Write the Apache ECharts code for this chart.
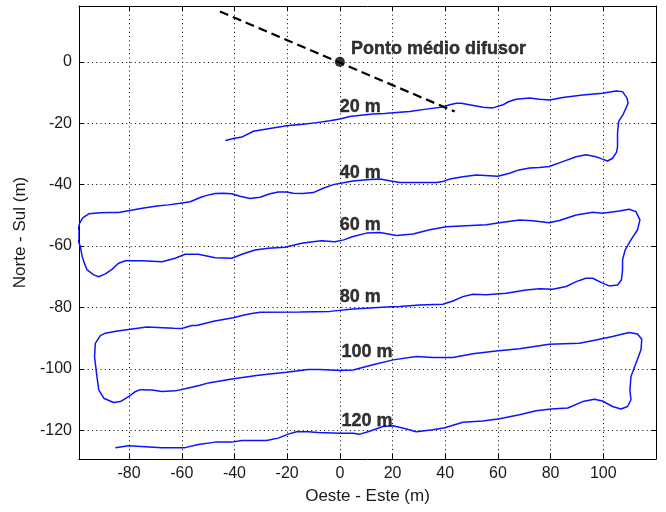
<!DOCTYPE html>
<html>
<head>
<meta charset="utf-8">
<script src="https://cdn.jsdelivr.net/npm/echarts@6/dist/echarts.min.js"></script>
<style>
  html, body { margin: 0; padding: 0; background: #ffffff; }
  #chart { width: 666px; height: 512px; }
</style>
</head>
<body>
<div id="chart"></div>
<script>
// Survey track (x = Oeste-Este, y = Norte-Sul, metres), one array per pass incl. its end turn
const pass20 = [
  [-43.4,-25.6],[-40.4,-25.0],[-37.2,-24.5],[-32.8,-22.6],[-26,-21.6],[-20.2,-20.8],[-14,-20.3],
  [-8.8,-19.8],[-3.8,-19.2],[0,-18.6],[3.8,-17.8],[8,-17.4],[12.6,-17.0],[17,-16.8],[21.5,-16.5],
  [26.5,-16.2],[32.8,-15.4],[39.1,-14.7],[41.7,-14.0],[44.2,-13.5],[46.1,-13.5],[49.2,-14.0],
  [54.3,-14.8],[58.1,-15.0],[61.9,-14.0],[64,-13.0],[66.9,-12.2],[72,-11.8],[75.8,-12.2],
  [79.5,-12.4],[84.6,-11.6],[92.2,-10.8],[99.7,-10.2],[104.8,-9.5],[107.3,-9.7],[109,-11.8],
  [109.4,-13.5],[107.6,-17.0],[105.8,-19.5],[105.4,-23.2],[105.4,-27.6],[105,-29.5],[103.5,-31.4],
  [101.6,-32.3]
];
const pass40 = [
  [99.7,-31.7],[97.2,-30.9],[93.4,-30.3],[89.7,-30.9],[84.6,-32.5],[79.5,-34.1],[75.8,-34.4],
  [72,-34.6],[68,-35.2],[64.4,-36.3],[60,-37.3],[56.8,-37.1],[51.8,-36.9],[46.7,-37.4],
  [41.7,-38.2],[39.1,-39.0],[36.6,-39.3],[30,-39.3],[22.7,-39.3],[15.2,-38.2],[10.1,-38.4],
  [5,-38.8],[1.3,-39.4],[-2.5,-40.0],[-6.3,-41.2],[-10.1,-42.6],[-14,-42.9],[-17.7,-42.8],
  [-20.2,-42.4],[-23.4,-42.4],[-26.5,-43.0],[-30.3,-44.1],[-34.1,-44.5],[-37.9,-43.8],
  [-41,-43.0],[-44.2,-42.8],[-47.3,-42.9],[-50.5,-43.5],[-53,-44.2],[-56.8,-45.6],[-60.6,-46.1],
  [-65,-46.6],[-69.4,-47.0],[-75,-47.7],[-80.2,-48.5],[-84,-49.1],[-87.1,-49.1],[-91,-49.2],
  [-95.3,-49.5],[-97.6,-50.8],[-98.8,-52.6],[-99.4,-55],[-99.4,-58],[-98.5,-60.2]
];
const pass60 = [
  [-97.8,-63.4],[-96.8,-66],[-95.9,-67.8],[-93.4,-69.4],[-91.5,-70.0],[-89,-69.1],[-86.5,-67.6],
  [-84,-65.6],[-81.4,-64.8],[-75.1,-64.8],[-67.5,-65.1],[-62.5,-64.0],[-58.7,-62.7],[-53.7,-62.7],
  [-47.3,-63.8],[-41,-64.0],[-37.2,-62.7],[-32.2,-61.3],[-27.2,-60.7],[-20.8,-60.4],[-14.5,-59.1],
  [-9.5,-58.5],[-6.9,-58.3],[-1.9,-58.6],[1.5,-58],[5,-56.9],[10.1,-55.8],[15.2,-55.6],
  [21.5,-56.6],[27.8,-56.1],[34.1,-54.7],[40.4,-53.7],[48,-53.4],[55.6,-53.1],[60.6,-52.4],
  [68.2,-51.5],[73.2,-51.8],[79.5,-52.4],[83.3,-51.7],[89.7,-49.9],[96,-49.0],[99.7,-49.3],
  [106.1,-48.6],[109.8,-48.0],[112.4,-48.8],[113.9,-51.5],[113,-54.7],[110.5,-58.0],
  [108.3,-61.3],[107.3,-64.5],[107.3,-67.8],[106.9,-71.0],[105.4,-72.7],[102.3,-73.0]
];
const pass80 = [
  [99.7,-72.1],[96,-70.5],[93.4,-70.5],[89.7,-71.6],[85.9,-73.2],[80.8,-74.1],[75.8,-73.9],
  [70.7,-74.3],[63.1,-75.4],[55.6,-75.9],[50.5,-75.7],[46.7,-76.5],[42.9,-77.9],[39.1,-79.0],
  [30.3,-79.2],[22.7,-79.7],[17.7,-79.9],[5,-80.5],[-3.8,-81.3],[-15,-81.5],[-30.3,-81.6],
  [-34,-82.1],[-37.9,-82.8],[-40.4,-83.4],[-48,-84.5],[-54.3,-85.9],[-56.2,-85.9],[-60,-86.9],
  [-63,-86.8],[-67.2,-86.6],[-73.2,-86.4],[-79.5,-87.1],[-85,-87.8],[-89,-88.4],[-90.9,-89.2],
  [-92.8,-91.7],[-93.1,-96.1],[-92.2,-102.5],[-91.5,-106.9],[-89.6,-109.6],[-85.9,-111.0]
];
const pass100 = [
  [-83.3,-110.7],[-80.2,-109.1],[-77.5,-107.4],[-75.8,-106.8],[-71.3,-106.9],[-67.5,-107.4],
  [-62.5,-107.2],[-58.7,-106.5],[-53,-105.4],[-49.9,-104.6],[-41,-103.3],[-30.9,-102.1],
  [-20.2,-101.1],[-12,-100.2],[-7.6,-100.2],[0,-100.6],[5,-100.4],[12.6,-98.7],[20.2,-97.1],
  [29,-96.0],[35.3,-96.3],[42.9,-96.3],[50.5,-95.1],[59.3,-94.2],[68.2,-93.5],[79.5,-92.0],
  [90.9,-91.7],[97.2,-90.6],[103.5,-89.5],[109.8,-88.2],[113,-88.7],[114.6,-90.4],[114.3,-93.8],
  [112.4,-98.2],[110.5,-102.5],[110.1,-106.9],[110.5,-110.1],[109.2,-112.3],[106.7,-113.1],
  [103.5,-112.3]
];
const pass120 = [
  [99.7,-110.5],[96.6,-109.9],[92.2,-110.7],[86.5,-112.8],[80.2,-113.1],[74.5,-113.7],
  [68.2,-115.0],[60.6,-116.3],[54.3,-117.0],[46.7,-117.4],[39.8,-119.2],[35.3,-119.9],
  [29,-120.5],[25.3,-119.6],[20.2,-118.6],[16.4,-118.8],[10.7,-120.5],[7.6,-121.3],[5,-121.0],
  [0,-121.0],[-8.2,-120.8],[-12,-120.5],[-16.4,-120.5],[-19.6,-121.3],[-23.4,-122.6],
  [-27.8,-123.4],[-37.2,-123.4],[-41,-123.9],[-47.3,-123.9],[-53.7,-124.7],[-58.7,-125.7],
  [-67.5,-125.7],[-80.2,-125.1],[-85.2,-125.7]
];

// Diffuser axis and its midpoint
const diffuserLine = [[-45.5, 16.4], [43.6, -16.2]];
const diffuserPoint = [[0, 0]];
const diffuserLabel = 'Ponto médio difusor';
const diffuserLabelAt = [4.2, 4.3];

// Distance labels for each pass
const depthLabels = ['20 m', '40 m', '60 m', '80 m', '100 m', '120 m'];
const depthLabelX = [0, 0, 0, 0, 0.6, 0.6];
const depthLabelY = [-14.8, -36.2, -53.2, -76.6, -94.7, -117.1];

// Axis ranges and tick labels
const xRange = [-99, 120];
const yRange = [-129.4, 18.2];
const xTicks = [-80, -60, -40, -20, 0, 20, 40, 60, 80, 100];
const yTicks = [-120, -100, -80, -60, -40, -20, 0];

const track = [].concat(pass20, pass40, pass60, pass80, pass100, pass120);
const FONT = '"Liberation Sans", Arial, Helvetica, sans-serif';

const chart = echarts.init(document.getElementById('chart'), null, { renderer: 'canvas' });

const frameLine = { show: true, onZero: false, lineStyle: { color: '#000', width: 1 } };
const frameTick = ticks => ({
  show: true, inside: true, length: 5, customValues: ticks,
  lineStyle: { color: '#000', width: 1 }
});

chart.setOption({
  animation: false,
  backgroundColor: '#ffffff',
  grid: { left: 79, right: 10, top: 6, bottom: 53, containLabel: false },
  xAxis: [
    {
      type: 'value', position: 'bottom', min: xRange[0], max: xRange[1], splitNumber: 11,
      name: 'Oeste - Este (m)', nameLocation: 'middle', nameGap: 29,
      nameTextStyle: { fontFamily: FONT, fontSize: 17, color: '#1a1a1a' },
      axisLine: frameLine,
      axisTick: frameTick(xTicks),
      axisLabel: { customValues: xTicks, fontFamily: FONT, fontSize: 16, color: '#1a1a1a', margin: 7 },
      splitLine: { show: true, lineStyle: { color: '#000', width: 1, type: [1, 3.3] } }
    },
    {
      type: 'value', position: 'top', min: xRange[0], max: xRange[1],
      axisLine: frameLine,
      axisTick: frameTick(xTicks),
      axisLabel: { show: false },
      splitLine: { show: false }
    }
  ],
  yAxis: [
    {
      type: 'value', position: 'left', min: yRange[0], max: yRange[1], splitNumber: 7,
      name: 'Norte - Sul (m)', nameLocation: 'middle', nameGap: 46, nameRotate: 90,
      nameTextStyle: { fontFamily: FONT, fontSize: 17, color: '#1a1a1a' },
      axisLine: frameLine,
      axisTick: frameTick(yTicks),
      axisLabel: { customValues: yTicks, fontFamily: FONT, fontSize: 16, color: '#1a1a1a', margin: 7 },
      splitLine: { show: true, lineStyle: { color: '#000', width: 1, type: [1, 3.3] } }
    },
    {
      type: 'value', position: 'right', min: yRange[0], max: yRange[1],
      axisLine: frameLine,
      axisTick: frameTick(yTicks),
      axisLabel: { show: false },
      splitLine: { show: false }
    }
  ],
  series: [
    {
      name: 'track', type: 'line', data: track, showSymbol: false, symbol: 'none',
      clip: true, lineStyle: { color: '#0a14ff', width: 1.5 }, z: 2
    },
    {
      name: 'diffuser', type: 'line', data: diffuserLine, symbol: 'none',
      lineStyle: { color: '#000', width: 2.2, type: [9, 5] }, z: 3
    },
    {
      name: 'midpoint', type: 'scatter', data: diffuserPoint, symbol: 'circle', symbolSize: 10,
      itemStyle: { color: '#000' }, z: 4
    },
    {
      name: 'labels', type: 'scatter', symbolSize: 0, z: 5,
      data: depthLabels.map((t, i) => [depthLabelX[i], depthLabelY[i], t])
        .concat([[diffuserLabelAt[0], diffuserLabelAt[1], diffuserLabel]]),
      label: {
        show: true, position: 'right', distance: 0,
        formatter: p => p.data[2],
        fontFamily: FONT, fontWeight: 'bold', fontSize: 18, color: '#000',
        textBorderColor: '#000', textBorderWidth: 0.4
      }
    }
  ]
});
</script>
</body>
</html>
